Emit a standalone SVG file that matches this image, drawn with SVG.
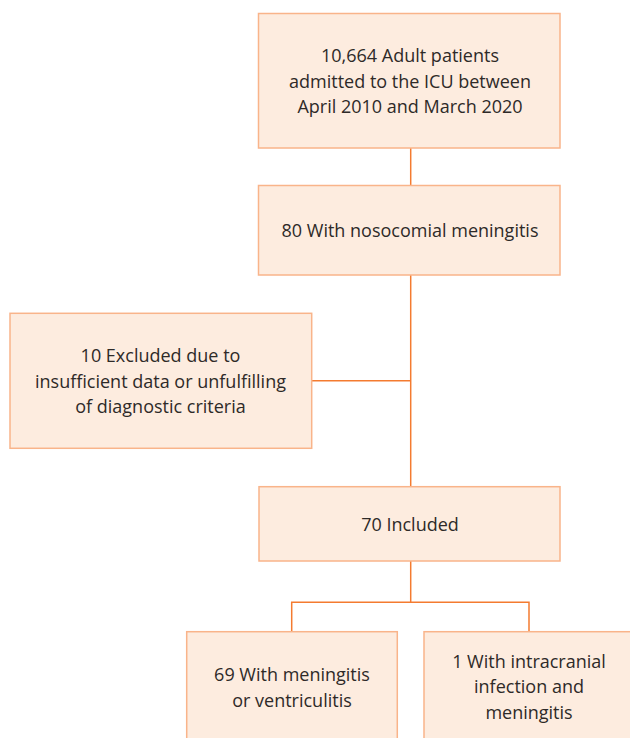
<svg xmlns="http://www.w3.org/2000/svg" width="630" height="738" viewBox="0 0 630 738">
<style>
.box{fill:#FDECDF;stroke:#F9B48A;stroke-width:1.5}
.t{font-family:"Open Sans","Noto Sans",sans-serif;font-size:18px;fill:#2E2A28;text-anchor:middle}
.c{stroke:#F47B30;stroke-width:1.5;fill:none}
</style>
<rect width="630" height="738" fill="#FFFFFF"/>
<g id="connectors">
<line class="c" x1="410.7" y1="148" x2="410.7" y2="186"/>
<line class="c" x1="410.7" y1="275" x2="410.7" y2="487"/>
<line class="c" x1="312" y1="380.7" x2="410.7" y2="380.7"/>
<line class="c" x1="410.7" y1="561" x2="410.7" y2="602.3"/>
<polyline class="c" points="291.7,632 291.7,602.3 529,602.3 529,632"/>
</g>
<g id="n1">
<rect class="box" x="258.5" y="13.5" width="301.5" height="134.5"/>
<text class="t" x="410" y="62">10,664 Adult patients</text>
<text class="t" x="410" y="87.5">admitted to the ICU between</text>
<text class="t" x="410" y="113">April 2010 and March 2020</text>
</g>
<g id="n2">
<rect class="box" x="258.5" y="185.5" width="301.5" height="89.5"/>
<text class="t" x="410" y="236.5">80 With nosocomial meningitis</text>
</g>
<g id="n3">
<rect class="box" x="10" y="313.3" width="301.7" height="135"/>
<text class="t" x="160.5" y="362">10 Excluded due to</text>
<text class="t" x="160.5" y="387.5">insufficient data or unfulfilling</text>
<text class="t" x="160.5" y="413">of diagnostic criteria</text>
</g>
<g id="n4">
<rect class="box" x="259" y="486.7" width="301" height="74.3"/>
<text class="t" x="410" y="531">70 Included</text>
</g>
<g id="n5">
<rect class="box" x="186.7" y="631.7" width="210.6" height="120"/>
<text class="t" x="292" y="681">69 With meningitis</text>
<text class="t" x="292" y="706.5">or ventriculitis</text>
</g>
<g id="n6">
<rect class="box" x="424" y="631.7" width="220" height="120"/>
<text class="t" x="529" y="667.5">1 With intracranial</text>
<text class="t" x="529" y="693">infection and</text>
<text class="t" x="529" y="719">meningitis</text>
</g>
</svg>
